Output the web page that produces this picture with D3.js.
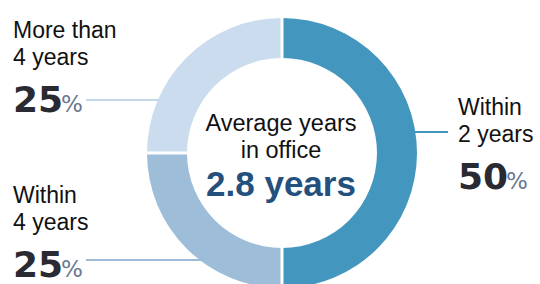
<!DOCTYPE html>
<html>
<head>
<meta charset="utf-8">
<script src="https://cdn.jsdelivr.net/npm/d3@7"></script>
<style>
  body { margin: 0; background: #fff; }
  svg { display: block; }
</style>
</head>
<body>
<svg class="donut"></svg>
<script>
const WIDTH = 540
const HEIGHT = 284

// data
const categories = ['Within 2 years', 'Within 4 years', 'More than 4 years']
const shares = [50, 25, 25]
const labelLines = [['Within', '2 years'], ['Within', '4 years'], ['More than', '4 years']]
const centerLines = ['Average years', 'in office']
const averageText = '2.8 years'

const fills = ['#4396be', '#9dbdd9', '#cadcee']
const lineFills = ['#4396be', '#9dbad6', '#c5d7ea']

const svg = d3.select('svg.donut')
  .attr('width', WIDTH)
  .attr('height', HEIGHT)

const cx = 282
const cy = 153
const outerR = 135
const innerR = 95

const pie = d3.pie().sort(null).value(d => d)
const arcs = pie(shares)
const arc = d3.arc().innerRadius(innerR).outerRadius(outerR)

const g = svg.append('g').attr('transform', 'translate(' + cx + ',' + cy + ')')

g.selectAll('path.slice')
  .data(arcs)
  .enter()
  .append('path')
  .attr('class', 'slice')
  .attr('d', arc)
  .attr('fill', (d, i) => fills[i])

// white separators between slices
g.selectAll('line.sep')
  .data(arcs)
  .enter()
  .append('line')
  .attr('x1', d => Math.sin(d.startAngle) * (innerR - 2))
  .attr('y1', d => -Math.cos(d.startAngle) * (innerR - 2))
  .attr('x2', d => Math.sin(d.startAngle) * (outerR + 2))
  .attr('y2', d => -Math.cos(d.startAngle) * (outerR + 2))
  .attr('stroke', '#fff')
  .attr('stroke-width', 3)

// label layout: x of text, y of first line baseline, leader line y
const labelPos = [
  {x: 458, y: 115, lineY: 132, side: 'right'},
  {x: 13, y: 203, lineY: 260, side: 'left'},
  {x: 13, y: 38, lineY: 100, side: 'left'}
]

categories.forEach((c, i) => {
  const p = labelPos[i]
  const dy = p.lineY - cy
  const edgeX = Math.sqrt(outerR * outerR - dy * dy)
  const lineStart = p.side === 'right' ? cx + edgeX - 2 : 86
  const lineEnd = p.side === 'right' ? 448 : cx - edgeX + 2

  svg.append('line')
    .attr('x1', lineStart)
    .attr('x2', lineEnd)
    .attr('y1', p.lineY)
    .attr('y2', p.lineY)
    .attr('stroke', lineFills[i])
    .attr('stroke-width', 2)

  const t = svg.append('text')
    .attr('x', p.x)
    .attr('y', p.y)
    .attr('font-family', 'Liberation Sans, Arial, sans-serif')
    .attr('font-size', 23)
    .attr('fill', '#111')
  labelLines[i].forEach((line, k) => {
    t.append('tspan').attr('x', p.x).attr('dy', k === 0 ? 0 : 27).text(line)
  })

  const pct = svg.append('text')
    .attr('x', p.x)
    .attr('y', p.y + 27 + 47)
    .attr('font-family', 'DejaVu Sans, sans-serif')
  pct.append('tspan')
    .attr('font-size', 36)
    .attr('font-weight', 600)
    .attr('fill', '#2a2a33')
    .text(shares[i])
  pct.append('tspan')
    .attr('dx', -2)
    .attr('font-size', 23)
    .attr('fill', '#6a7890')
    .text('%')
})

// centre text
svg.selectAll('text.center')
  .data(centerLines)
  .enter()
  .append('text')
  .attr('class', 'center')
  .attr('x', 281)
  .attr('y', (d, i) => 131 + i * 27)
  .attr('text-anchor', 'middle')
  .attr('font-family', 'Liberation Sans, Arial, sans-serif')
  .attr('font-size', 23.5)
  .attr('fill', '#111')
  .text(d => d)

svg.append('text')
  .attr('x', 281)
  .attr('y', 196)
  .attr('text-anchor', 'middle')
  .attr('font-family', 'Liberation Sans, Arial, sans-serif')
  .attr('font-size', 35)
  .attr('font-weight', 'bold')
  .attr('fill', '#24507d')
  .text(averageText)
</script>
</body>
</html>
